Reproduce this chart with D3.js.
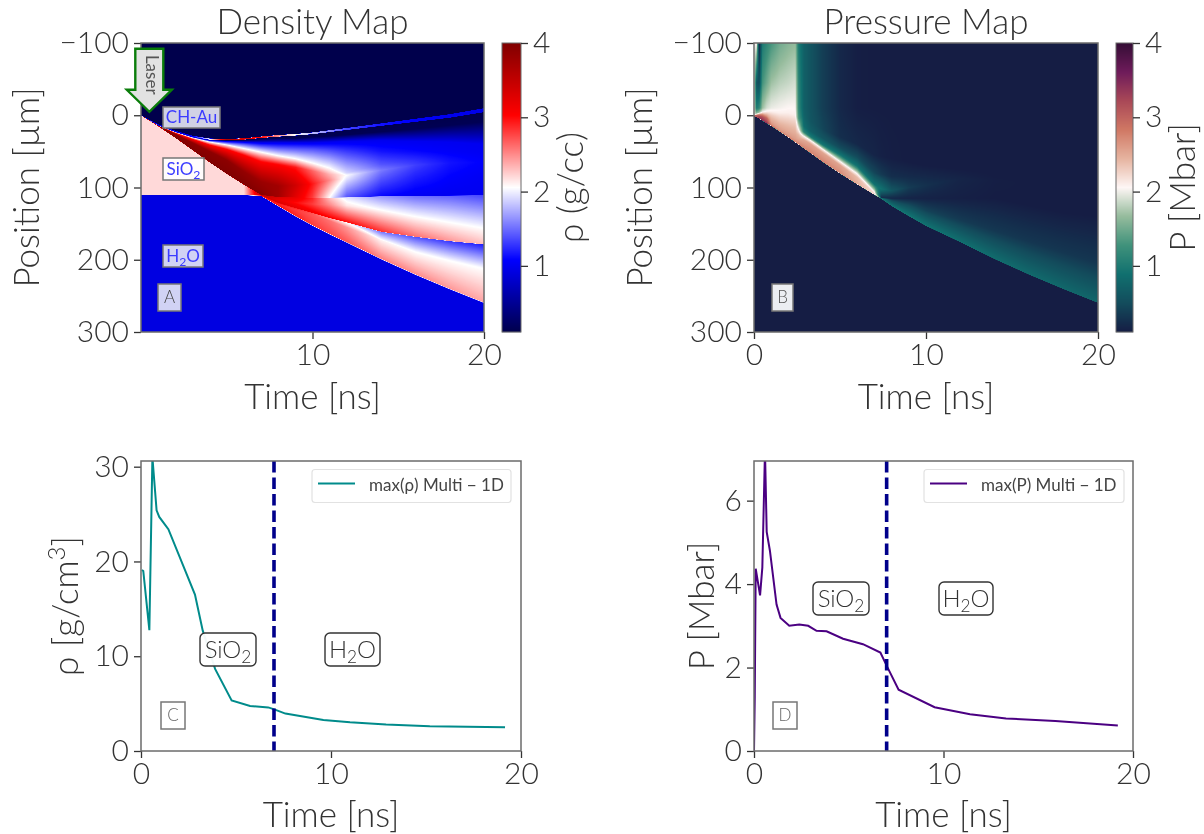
<!DOCTYPE html>
<html><head><meta charset="utf-8">
<script src="https://cdnjs.cloudflare.com/ajax/libs/d3/7.8.5/d3.min.js"></script>
<style>
html,body{margin:0;padding:0;background:#fff;width:1204px;height:834px;overflow:hidden}
canvas{position:absolute}
svg{position:absolute;left:0;top:0}
text{font-family:Lato,"Open Sans",sans-serif;font-weight:300;fill:#333}
</style></head><body>
<canvas id="cA"></canvas><canvas id="cB"></canvas>
<svg id="s" width="1204" height="834"></svg>
<script>
// ---------- value colour ramps ----------
const densityColorStops=[0.11,1.0825,2.055,3.0275,4];
const densityColors=["#00004c","#0000ff","#ffffff","#ff0000","#800000"];
const pressureColorStops=[0.11,0.5,0.89,1.28,1.67,2.055,2.44,2.83,3.22,3.61,4];
const pressureColors=["#151d44","#134c5c","#10706f","#40927b","#96bc9d","#fef6f5","#e6b4a0","#d07864","#a94857","#6e1b5a","#340d35"];

// ---------- panel A, density map: rows (top to bottom), one entry per time ----------
const densityTimes=[0,1,2,3,4,5,6,7,8,9,10,11,12,14,16,18,20];
const f=(v,n=17)=>Array(n).fill(v);
const densityPos=[
 f(-100),
 [-.3,12.2,21.2,28.1,32,32.7,31.7,29.3,27.2,25.7,23.6,20.5,17.4,11.1,4.7,-1.6,-9.9],
 [0,12.5,21.5,28.4,32.3,33,32,29.6,27.5,26,23.9,20.8,17.7,11.4,5,-1.3,-9.6],
 [0,13.5,22.5,29.6,33.7,34.6,33.6,31.4,29.5,28,26.1,23.2,20.3,14.6,9,3.3,-4.4],
 [0,13.8,22.8,29.9,34,34.9,33.9,31.7,29.8,28.3,26.4,23.5,20.6,14.9,9.3,3.6,-4.1],
 [0,13.9,22.9,30,34.5,35.2,34.5,33,32,32,30,29,27,23,19,14,9],
 [0,14,23,30.2,35,36,37,38,38,38,38,37,36,35,36,37,40],
 [0,14.1,23.3,30.5,35.5,38,40,43,45,46,47,48,50,50,50,50,52],
 [0,14.2,23.5,31,37,41,46,51,56,60,66,73,80,68,62,60,60],
 [0,14.5,24.5,33,41,47,55,64,68,72,77,82,83,76,69,66,65],
 [0,14.8,26,38,50,62,78,92,98,97,95,90,88,88,85,85,85],
 [0,15,31,48,65,81,96,110,113,113.5,114,114,113.5,112,111.5,111,110.5],
 [.4,15.4,31.4,48.4,65.4,81.4,96.4,110.3,113.4,113.9,114.4,114.4,113.9,112.4,111.9,111.4,110.9],
 [110,110,110,110,110,110,110,110.5,117,121,123,124,125,131,140,148,156],
 [110.5,110.5,110.5,110.5,110.5,110.5,110.5,110.7,121,128,135,142,148,161,168,174,178.5],
 [110.6,110.6,110.6,110.6,110.6,110.6,110.6,111,121.5,128.5,135.5,142.5,148.5,161.5,168.5,174.5,179],
 [110.7,110.7,110.7,110.7,110.7,110.7,110.7,111.2,123,130.5,138,146,155,173,189,201,212],
 [110.8,110.8,110.8,110.8,110.8,110.8,110.8,111.5,125,139,152,164,175.5,198.5,220,240,259],
 [110.9,110.9,110.9,110.9,110.9,110.9,110.9,112,126.5,140.5,153.5,165.5,177,200,221.5,241.5,260.5],
 f(300)];
const densityVal=[
 f(.11),
 f(.11),
 [1,.9,.9,1,2,3.6,3.4,3,2.5,2.05,1.8,1.6,1.35,1.15,1.05,1,.95],
 [1,.9,.9,1,2,3.6,3.4,3,2.5,2.05,1.8,1.6,1.35,1.15,1.05,1,.95],
 [.9,.9,.9,.9,.8,.2,.11,.11,.11,.11,.11,.11,.11,.11,.11,.11,.11],
 [.9,.9,.9,.9,.85,.25,.15,.15,.15,.15,.15,.15,.15,.15,.15,.15,.15],
 f(1),
 [1.3,1.3,1.3,1.3,1.4,1.4,1.4,1.4,1.4,1.4,1.4,1.35,1.3,1.15,1.1,1.05,1.02],
 [2.05,2.05,2.05,2.05,2.05,2.05,2.05,2.05,2.05,2.05,2.05,2.05,1.9,1.4,1.25,1.12,1.05],
 [3,3,3,3,3,3,3,3,3,2.95,2.65,2.35,2.05,1.55,1.32,1.15,1.07],
 [3.9,3.9,3.9,3.9,3.9,3.9,3.85,3.8,3.75,3.4,2.95,2.5,1.95,1.4,1.2,1.08,1.02],
 [4,4,4,4,4,4,4,3.95,3.75,3.25,2.8,2.05,1.4,1.1,1.02,1,1],
 [2.2,2.2,2.2,2.2,2.2,2.2,2.2,3.6,3.3,3.2,2.9,2.3,1.95,1.65,1.5,1.45,1.35],
 [2.2,2.2,2.2,2.2,2.2,2.2,2.2,3.5,3.2,3,2.8,2.5,2.15,2.05,2.05,2.05,2.05],
 [.92,.92,.92,.92,.92,.92,.92,3.4,3.3,3.2,3.1,3.05,3,2.85,2.6,2.45,2.3],
 [.92,.92,.92,.92,.92,.92,.92,3,3,2.9,2.7,2.4,2.05,1.55,1.4,1.3,1.2],
 [.92,.92,.92,.92,.92,.92,.92,3,2.9,2.8,2.7,2.6,2.45,2.1,2.05,2.05,2.05],
 [.92,.92,.92,.92,.92,.92,.92,3,3,2.9,2.8,2.75,2.7,2.55,2.5,2.45,2.4],
 f(.92),
 f(.92)];

// ---------- panel B, pressure map ----------
const pressureTimes=[0,.15,.3,.5,.75,1,1.5,2,2.4,2.6,2.9,3.3,4,5,6,7,7.4,8,9,10,12,14,16,18,20];
const g=v=>Array(25).fill(v);
const pressureTop=[2.05,2.05,.15,1,1.15,1.3,1.5,1.6,1.65,1,.72,.58,.38,.2,.12,.11,.11,.11,.11,.11,.11,.11,.11,.11,.11];
const pressurePos=[
 g(-100),
 g(-45),
 g(-10),
 [-1,-3,-4,-5,-5,-5,-3,-3,0,5,0,8,20,30,40,55,57,60,65,70,75,80,85,90,95],
 [-.5,-1,-2,-3,-2,0,3,5,8,13,15,22,32,45,58,80,82,85,85,85,82,85,90,95,100],
 [0,0,-.5,-1,1,5,10,14,18,20,23,30,41,55,71,96,102,104,100,97,88,90,95,100,105],
 [.2,1,1.5,2,4,9,15,21,26,27,29,35,47,64,81,106,114,115,115,115,115,115,125,135,140],
 [.4,2,3,5,8,12,20,27,33,32,34,40,52,69,86,108,115,118,125,132,145,160,175,190,205],
 [.6,2.6,4.5,7.5,11.3,14.6,22.6,30.6,37.4,40.6,45.8,52.5,64.5,80.5,95.5,110,115.5,125.5,139.5,153,175.5,199,220.5,240.5,259.5],
 [1,3,5,8,11.8,15,23,31,37.8,41,46.3,53,65,81,96,110.5,116,126,140,153.5,176,199.5,221,241,260],
 g(300)];
const pressureVal=[
 pressureTop,
 [2.05,.6,.5,1.3,1.5,1.7,1.8,1.85,1.9,1.1,.72,.58,.38,.2,.12,.11,.11,.11,.11,.11,.11,.11,.11,.11,.11],
 [2.05,1,1.15,1.7,1.9,1.98,2.02,2.05,2.05,1.15,.72,.58,.38,.2,.12,.11,.11,.11,.11,.11,.11,.11,.11,.11,.11],
 [2.05,1.6,1.7,2,2.1,2.1,2.1,2.1,2.1,1.3,.75,.6,.45,.25,.2,.17,.14,.12,.11,.11,.11,.11,.11,.11,.11],
 [2.05,2.3,2.3,2.3,2.35,2.3,2.25,2.25,2.25,1.7,.85,.7,.6,.5,.5,.45,.35,.25,.22,.2,.14,.11,.11,.11,.11],
 [3,3,2.9,2.7,2.6,2.45,2.4,2.4,2.4,2.05,1.1,1,.95,.95,.95,.9,.9,.6,.36,.27,.17,.12,.11,.11,.11],
 [3,3.1,3.2,3.1,2.95,2.55,2.5,2.5,2.5,2.4,2.05,2.05,2.05,2.05,2.05,2.05,.25,.2,.17,.15,.13,.11,.11,.11,.11],
 [3,3.1,3.3,3.3,3.15,2.65,2.6,2.6,2.6,2.5,2.5,2.55,2.55,2.55,2.4,2.2,.9,.5,.52,.42,.35,.33,.32,.32,.32],
 [3,3.1,3.3,3.4,3.4,2.9,2.75,2.75,2.75,2.75,2.75,2.75,2.75,2.7,2.5,2.2,1,.95,.95,.92,.88,.85,.82,.8,.78],
 g(.11),
 g(.11)];

// ---------- panels C and D ----------
const rhoTime=[.05,.12,.44,.6,.82,.96,1.44,2.84,3.25,3.9,4.77,5.74,6.7,7.05,7.6,9.6,11,12.9,15.2,19.16];
const rhoMax=[19.1,19,12.75,31,25.4,24.7,23.4,16.5,12.7,8.66,5.34,4.75,4.6,4.37,3.95,3.28,3.04,2.8,2.62,2.51];
const pTime=[0,.04,.09,.32,.44,.58,.67,.84,1.19,1.4,1.86,2.39,2.86,3.3,3.83,4.7,5.75,6.67,7.07,7.63,9.53,11.4,13.3,15.9,19.2];
const pMax=[0,1.3,4.37,3.73,4.4,7.2,5.25,4.8,3.51,3.19,3,3.03,3,2.88,2.87,2.69,2.56,2.36,1.98,1.47,1.05,.88,.78,.72,.61];
const interfaceTime=7;
const mapPosTicks=[-100,0,100,200,300];
const cbarTicks=[1,2,3,4];

const svg=d3.select("#s");
const ink="#333", spine="#6b6b6b", TICK=30, LAB=35;
const densityColor=d3.scaleLinear().domain(densityColorStops).range(densityColors).clamp(true);
const pressureColor=d3.scaleLinear().domain(pressureColorStops).range(pressureColors).clamp(true);

function styleAxis(g,size){
  g.selectAll(".tick line").attr("stroke",ink).attr("stroke-width",1.3);
  g.selectAll(".tick text").style("font-size",size+"px").attr("fill","#333");
  g.select(".domain").remove();
}
function frame(x0,x1,y0,y1){
  svg.append("rect").attr("x",x0).attr("y",y0).attr("width",x1-x0).attr("height",y1-y0)
    .attr("fill","none").attr("stroke",spine).attr("stroke-width",1.5);
}
function label(x,y,txt,size,rot){
  const t=svg.append("text").attr("text-anchor","middle").style("font-size",size+"px");
  if(rot) t.attr("transform",`translate(${x},${y}) rotate(-90)`); else t.attr("x",x).attr("y",y);
  return t.text(txt);
}
function paint(id,xs,ys,times,P,V,color){
  const [x0,x1]=xs.range(),[y0,y1]=ys.range();
  const w=x1-x0,h=y1-y0;
  const c=d3.select(id).attr("width",w).attr("height",h).style("left",x0+"px").style("top",y0+"px");
  const ctx=c.node().getContext("2d"),img=ctx.createImageData(w,h);
  const lut=d3.range(1001).map(i=>d3.rgb(color(i*0.004)));
  const bis=d3.bisector(d=>d).right;
  for(let px=0;px<w;px++){
    const t=xs.invert(x0+px+.5);
    let k=Math.min(times.length-2,Math.max(0,bis(times,t)-1));
    const a=Math.min(1,Math.max(0,(t-times[k])/(times[k+1]-times[k])));
    const ps=P.map(r=>r[k]*(1-a)+r[k+1]*a), vs=V.map(r=>r[k]*(1-a)+r[k+1]*a);
    let s=0;
    for(let py=0;py<h;py++){
      const y=ys.invert(y0+py+.5);
      while(s<ps.length-2&&y>ps[s+1])s++;
      const d=ps[s+1]-ps[s];
      const b=d<=0?1:Math.min(1,Math.max(0,(y-ps[s])/d));
      const v=vs[s]*(1-b)+vs[s+1]*b;
      const col=lut[Math.max(0,Math.min(1000,Math.round(v/0.004)))];
      const o=(py*w+px)*4;
      img.data[o]=col.r;img.data[o+1]=col.g;img.data[o+2]=col.b;img.data[o+3]=255;
    }
  }
  ctx.putImageData(img,0,0);
}
function colorbar(x0,x1,y0,y1,color,title,titleX){
  const cy=d3.scaleLinear().domain([.11,4]).range([y1,y0]);
  svg.append("g").selectAll("rect").data(d3.range(y0,y1)).join("rect")
    .attr("x",x0).attr("y",d=>d).attr("width",x1-x0).attr("height",1.2)
    .attr("fill",d=>color(cy.invert(d+.5)));
  svg.append("rect").attr("x",x0).attr("y",y0).attr("width",x1-x0).attr("height",y1-y0)
    .attr("fill","none").attr("stroke",spine).attr("stroke-width",1);
  const a=svg.append("g").attr("transform",`translate(${x1},0)`)
    .call(d3.axisRight(cy).tickValues(cbarTicks).tickSize(7).tickPadding(5).tickFormat(d3.format("d")));
  styleAxis(a,TICK);
  label(titleX,(y0+y1)/2,title,LAB,true);
}
function mapPanel(x0,x1,xTicks,title,id,times,P,V,color){
  const y0=43,y1=332;
  const xs=d3.scaleLinear().domain([0,20]).range([x0,x1]);
  const ys=d3.scaleLinear().domain([-100,300]).range([y0,y1]);
  paint(id,xs,ys,times,P,V,color);
  const ax=svg.append("g").attr("transform",`translate(0,${y1})`)
    .call(d3.axisBottom(xs).tickValues(xTicks).tickSize(7).tickPadding(5).tickFormat(d3.format("d")));
  styleAxis(ax,TICK);
  const ay=svg.append("g").attr("transform",`translate(${x0},0)`)
    .call(d3.axisLeft(ys).tickValues(mapPosTicks).tickSize(7).tickPadding(5));
  styleAxis(ay,TICK);
  frame(x0,x1,y0,y1);
  label((x0+x1)/2,34,title,LAB);
  label((x0+x1)/2,409,"Time [ns]",LAB);
  label(x0-102,(y0+y1)/2,"Position [µm]",LAB,true);
  return {xs,ys};
}
function box(x0,y0,x1,y1,o){
  svg.append("rect").attr("x",x0).attr("y",y0).attr("width",x1-x0).attr("height",y1-y0)
    .attr("rx",o.r||0).attr("fill",o.fill||"#fff").attr("fill-opacity",o.op==null?.9:o.op)
    .attr("stroke",o.stroke||"#777").attr("stroke-width",o.sw||1.5);
  const t=svg.append("text").attr("x",(x0+x1)/2).attr("y",(y0+y1)/2+o.size*.35)
    .attr("text-anchor","middle").style("font-size",o.size+"px").style("font-weight",o.w||400).style("fill",o.color||"#444");
  (o.parts||[[o.text,false]]).forEach(([s,sub])=>{
    const ts=t.append("tspan").text(s).style("fill",o.color||"#444");
    if(sub) ts.attr("dy",o.size*.22).style("font-size",(o.size*.72)+"px");
    else if(t.selectAll("tspan").size()>1) ts.attr("dy",-o.size*.22);
  });
}
const SIO2=[["SiO",false],["2",true]], H2O=[["H",false],["2",true],["O",false]];

// ---- Panels A, B
const A=mapPanel(141,484,[10,20],"Density Map","#cA",densityTimes,densityPos,densityVal,densityColor);
colorbar(502,521,43,332,densityColor,"ρ (g/cc)",583);
const B=mapPanel(754,1098,[0,10,20],"Pressure Map","#cB",pressureTimes,pressurePos,pressureVal,pressureColor);
colorbar(1116,1133,43,332,pressureColor,"P [Mbar]",1195);

// Laser arrow, anchored at the laser impact point of panel A
const tipX=A.xs(0)+8.3, tipY=A.ys(0)-3.5;
svg.append("path").attr("d",d3.line()([[tipX,tipY],[tipX-22.5,tipY-22],[tipX-14,tipY-22],[tipX-14,tipY-63],[tipX+14,tipY-63],[tipX+14,tipY-22],[tipX+22.5,tipY-22]])+"Z")
  .attr("fill","#e2e2e2").attr("stroke","#0a7d0a").attr("stroke-width",2.4).attr("stroke-linejoin","miter");
svg.append("text").attr("transform",`translate(${tipX-3},${tipY-37}) rotate(90)`).attr("text-anchor","middle")
  .style("font-size","17px").style("fill","#555").style("font-weight",400).text("Laser");

const tint="#e8e9f6";
box(163,107,220,128,{text:"CH-Au",size:17,color:"#3c3cff",fill:tint});
box(163,158,204,180,{parts:SIO2,size:17,color:"#3c3cff",fill:"#fff"});
box(163,245,203,267,{parts:H2O,size:17,color:"#3c3cff",fill:tint});
box(158,284,181,311,{text:"A",size:17,color:"#444",fill:tint,w:300});
box(772,284,793,311,{text:"B",size:17,color:"#555",fill:"#eceef2",op:1,w:300});

// ---- Panels C, D
function linePanel(x0,x1,yMax,yTicks,tx,ty,color,id){
  const y0=461,y1=751;
  const xs=d3.scaleLinear().domain([0,20]).range([x0,x1]);
  const ys=d3.scaleLinear().domain([0,yMax]).range([y1,y0]);
  const ax=svg.append("g").attr("transform",`translate(0,${y1})`)
    .call(d3.axisBottom(xs).tickValues([0,10,20]).tickSize(7).tickPadding(5).tickFormat(d3.format("d")));
  styleAxis(ax,TICK);
  const ay=svg.append("g").attr("transform",`translate(${x0},0)`)
    .call(d3.axisLeft(ys).tickValues(yTicks).tickSize(7).tickPadding(5).tickFormat(d3.format("d")));
  styleAxis(ay,TICK);
  svg.append("clipPath").attr("id",id).append("rect").attr("x",x0).attr("y",y0).attr("width",x1-x0).attr("height",y1-y0);
  svg.append("path").datum(d3.zip(tx,ty)).attr("clip-path",`url(#${id})`)
    .attr("fill","none").attr("stroke",color).attr("stroke-width",2)
    .attr("d",d3.line().x(d=>xs(d[0])).y(d=>ys(d[1])));
  svg.append("line").attr("x1",xs(interfaceTime)).attr("x2",xs(interfaceTime)).attr("y1",y0).attr("y2",y1)
    .attr("stroke","#00008b").attr("stroke-width",3.6).attr("stroke-dasharray","11.5 5");
  frame(x0,x1,y0,y1);
  label((x0+x1)/2,827,"Time [ns]",LAB);
  return {xs,ys};
}
const C=linePanel(141,521,30.6,[0,10,20,30],rhoTime,rhoMax,"#008b8b","clipC");
const D=linePanel(754,1133,6.95,[0,2,4,6],pTime,pMax,"#4b0082","clipD");

const yl=svg.append("text").attr("transform","translate(78,606) rotate(-90)").attr("text-anchor","middle").style("font-size",LAB+"px");
yl.append("tspan").text("ρ [g/cm");
yl.append("tspan").text("3").attr("dy",-13).style("font-size","24px");
yl.append("tspan").text("]").attr("dy",13);
label(714,606,"P [Mbar]",LAB,true);

function legend(x0,x1,color,txt,textX){
  svg.append("rect").attr("x",x0).attr("y",469.5).attr("width",x1-x0).attr("height",33).attr("rx",3)
    .attr("fill","#fff").attr("stroke","#e2e2e2").attr("stroke-width",1.2);
  svg.append("line").attr("x1",x0+6).attr("x2",x0+43).attr("y1",483.5).attr("y2",483.5).attr("stroke",color).attr("stroke-width",2);
  svg.append("text").attr("x",textX).attr("y",491).style("font-size","17px").style("fill","#444").style("font-weight",400).text(txt);
}
legend(312,511,"#008b8b","max(ρ) Multi − 1D",369);
legend(924,1124,"#4b0082","max(P) Multi − 1D",981);

const big={size:24,r:5,stroke:"#333",color:"#333",fill:"#fff",op:.95,sw:1.4,w:300};
box(200,633,256,666,{...big,parts:SIO2});
box(325,633,380,666,{...big,parts:H2O});
box(813,582,869,615,{...big,parts:SIO2});
box(939,582,993,615,{...big,parts:H2O});
box(161,702,185,729,{text:"C",size:17,color:"#666",fill:"#fff",op:1,w:300});
box(773,702,797,729,{text:"D",size:17,color:"#666",fill:"#fff",op:1,w:300});
</script></body></html>
